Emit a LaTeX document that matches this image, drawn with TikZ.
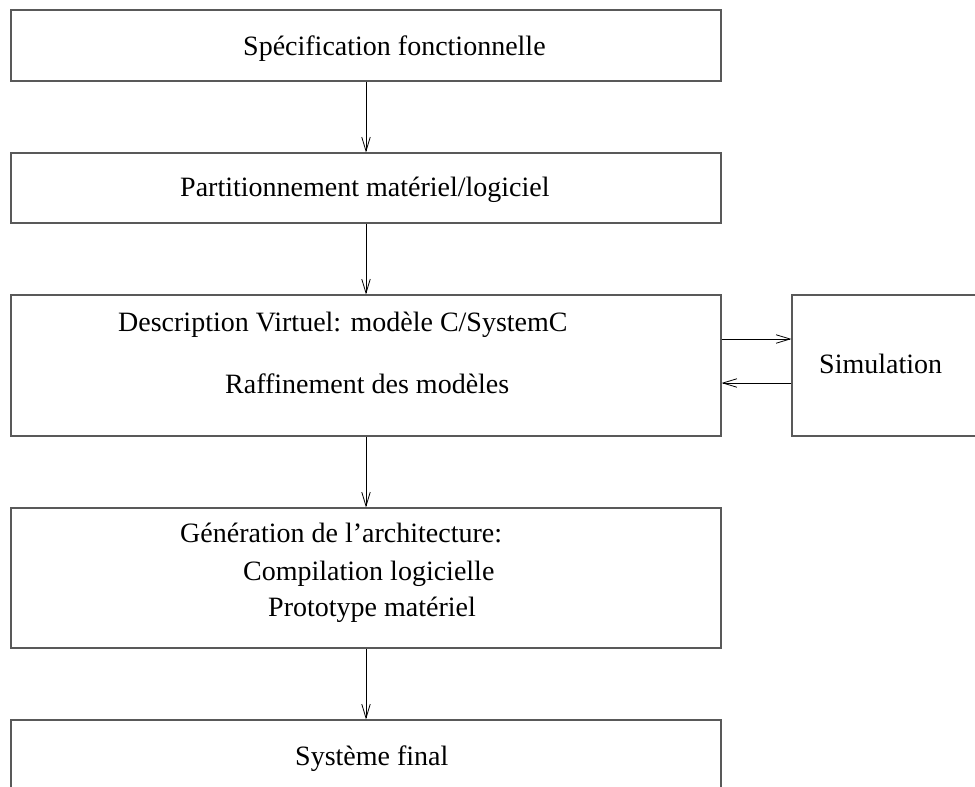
\documentclass[tikz,border=0pt]{standalone}
\usepackage{fontspec}
\setmainfont{Liberation Serif}
\usetikzlibrary{arrows.meta}
\begin{document}
\begin{tikzpicture}[x=1pt,y=-1pt,
 box/.style={draw=black!65,line width=1.1pt,inner sep=0pt,rectangle},
 lab/.style={anchor=base west,inner sep=0pt,font=\fontsize{28}{34}\selectfont},
 arr/.style={draw=black,line width=0.8pt,-{Straight Barb[length=14pt,width=8.5pt,line width=0.8pt]}}]
\useasboundingbox (0,0) rectangle (975,787);
\clip (0,0) rectangle (975,787);
\node[box,minimum width=710pt,minimum height=71pt] (b1) at (366,45.5) {};
\node[box,minimum width=710pt,minimum height=70pt] (b2) at (366,188) {};
\node[box,minimum width=710pt,minimum height=141pt] (b3) at (366,365.5) {};
\node[box,minimum width=710pt,minimum height=140pt] (b4) at (366,578) {};
\node[box,minimum width=710pt,minimum height=90pt] (b5) at (366,765) {};
\node[box,minimum width=200pt,minimum height=141pt] (sim) at (892,365.5) {};
\node[lab] (t1) at (243,55) {Spécification fonctionnelle};
\node[lab] (t2) at (180,196) {Partitionnement matériel/logiciel};
\node[lab] (t3a) at (118,331) {Description Virtuel: modèle C/SystemC};
\node[lab] (t3b) at (225,393) {Raffinement des modèles};
\node[lab] (t4a) at (180,542) {Génération de l’architecture:};
\node[lab] (t4b) at (243,580) {Compilation logicielle};
\node[lab] (t4c) at (268,616) {Prototype matériel};
\node[lab] (t5) at (295,765) {Système final};
\node[lab] (ts) at (819,373) {Simulation};
\draw[arr] (b1.south) -- (b2.north);
\draw[arr] (b2.south) -- (b3.north);
\draw[arr] (b3.south) -- (b4.north);
\draw[arr] (b4.south) -- (b5.north);
\draw[arr] (b3.east |- 0,339) -- (sim.west |- 0,339);
\draw[arr] (sim.west |- 0,383) -- (b3.east |- 0,383);
\end{tikzpicture}
\end{document}
